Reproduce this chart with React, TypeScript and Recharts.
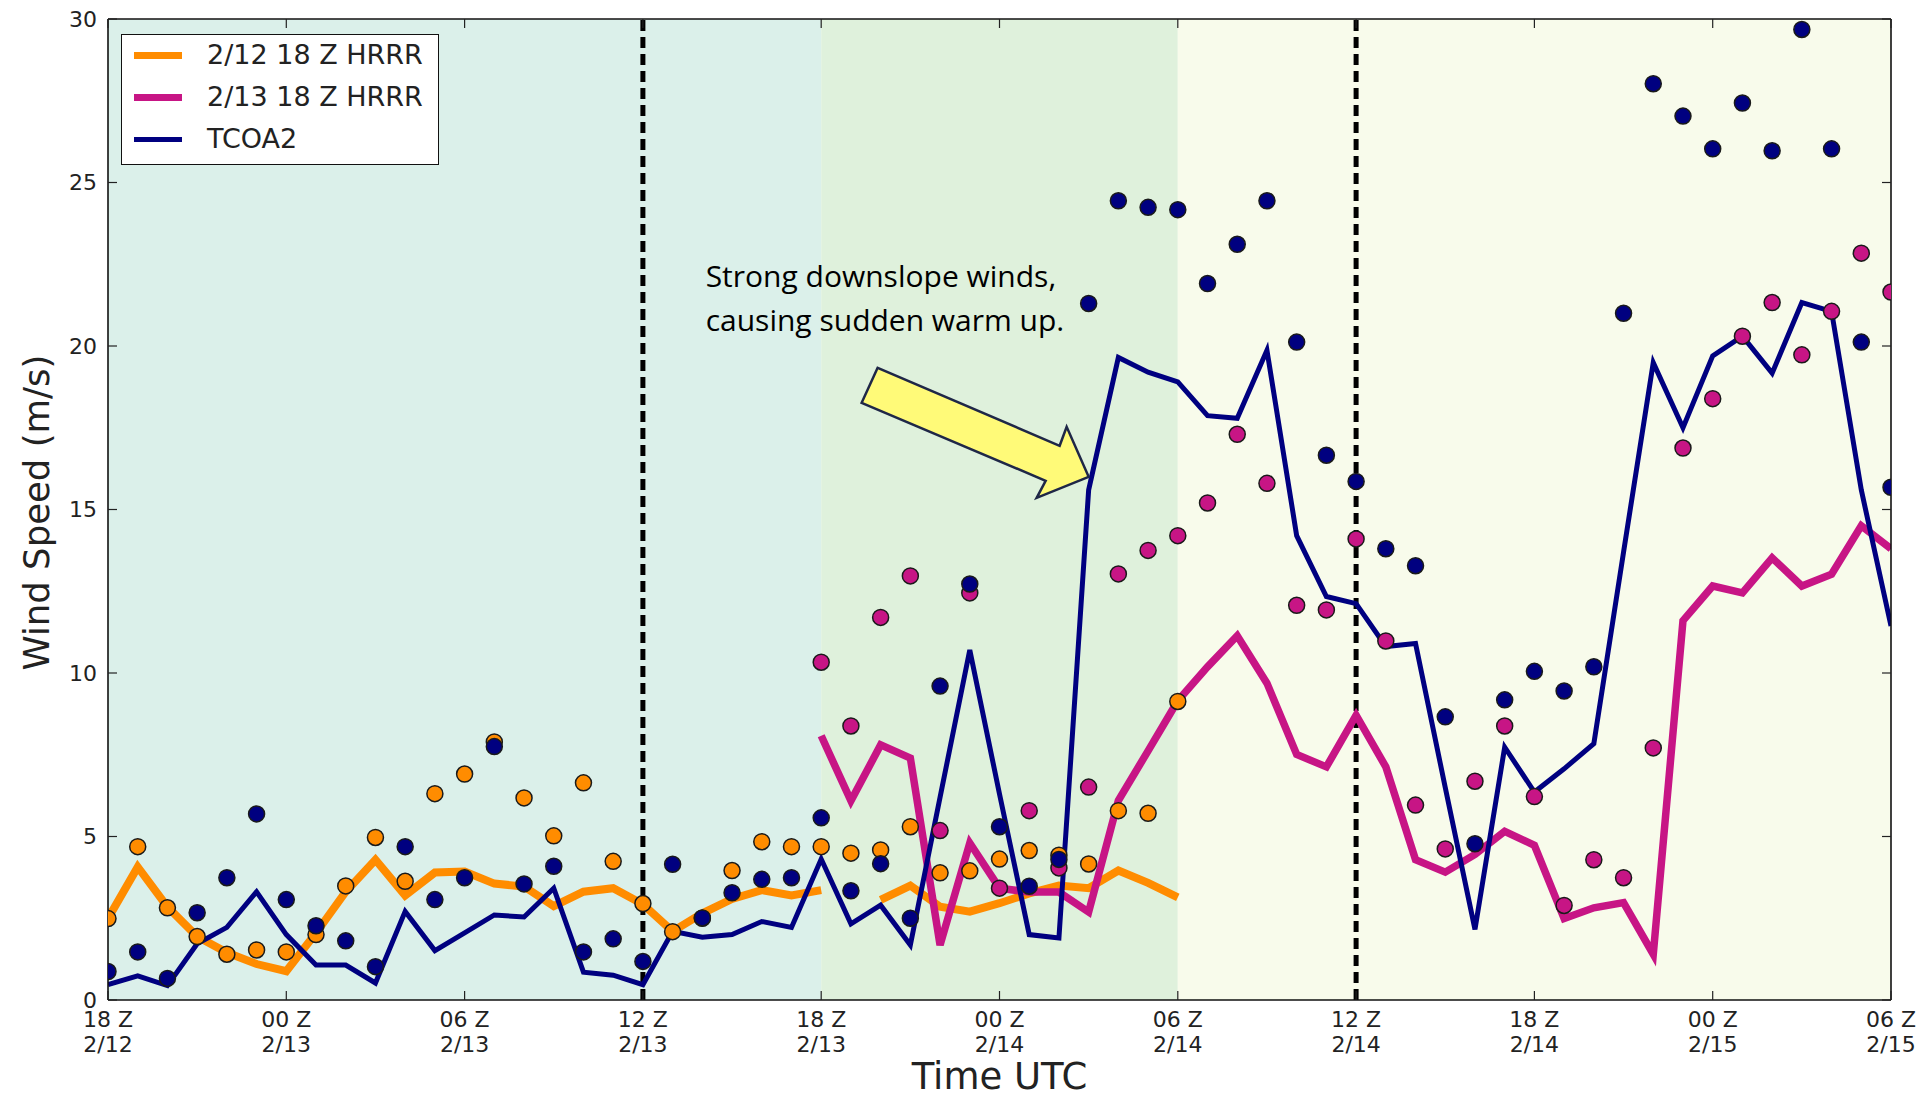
import React from "react";
import {
  ComposedChart,
  Line,
  XAxis,
  YAxis,
  ReferenceArea,
  ReferenceLine,
  ReferenceDot,
} from "recharts";

// hours since 18 Z 2/12, one value per hour
const hourTicks = [0, 6, 12, 18, 24, 30, 36, 42, 48, 54, 60];
const tickTimes = ["18 Z", "00 Z", "06 Z", "12 Z", "18 Z", "00 Z", "06 Z", "12 Z", "18 Z", "00 Z", "06 Z"];
const tickDates = ["2/12", "2/13", "2/13", "2/13", "2/13", "2/14", "2/14", "2/14", "2/14", "2/15", "2/15"];
const yTicks = [0, 5, 10, 15, 20, 25, 30];

// TCOA2 observed wind speed (line) and gusts (dots), h0..h60
const tcoa2Speed = [
  0.47, 0.74, 0.44, 1.72, 2.22, 3.31, 2.0, 1.07, 1.07, 0.52,
  2.71, 1.51, 2.05, 2.6, 2.54, 3.42, 0.85, 0.76, 0.47, 2.1,
  1.92, 2.0, 2.4, 2.22, 4.31, 2.33, 2.9, 1.68, 6.2, 10.7,
  6.3, 2.0, 1.9, 15.6, 19.65, 19.2, 18.9, 17.87, 17.79, 19.87,
  14.2, 12.34, 12.12, 10.81, 10.9, 6.5, 2.16, 7.73, 6.36, 7.07,
  7.84, 13.7, 19.49, 17.5, 19.7, 20.3, 19.17, 21.33, 21.06, 15.6,
  11.44,
];
const tcoa2Gust = [
  0.87, 1.47, 0.66, 2.67, 3.74, 5.69, 3.07, 2.27, 1.81, 1.02,
  4.69, 3.07, 3.74, 7.75, 3.55, 4.09, 1.47, 1.87, 1.18, 4.15,
  2.51, 3.28, 3.69, 3.74, 5.57, 3.34, 4.17, 2.5, 9.6, 12.72,
  5.3, 3.48, 4.3, 21.3, 24.44, 24.24, 24.17, 21.91, 23.11, 24.44,
  20.12, 16.66, 15.86, 13.8, 13.28, 8.66, 4.78, 9.18, 10.05, 9.45,
  10.19, 21.0, 28.02, 27.03, 26.03, 27.43, 25.97, 29.68, 26.03, 20.12,
  15.68,
];

// 2/12 18 Z HRRR, h0..h36 (h25 missing)
const hrrr12Speed = [
  2.49, 4.07, 2.85, 1.94, 1.45, 1.1, 0.88, 2.05, 3.31, 4.29,
  3.2, 3.9, 3.93, 3.56, 3.47, 2.87, 3.31, 3.42, 2.93, 2.1,
  2.65, 3.09, 3.36, 3.2, 3.36, null, 3.06, 3.5, 2.85, 2.7,
  2.96, 3.26, 3.5, 3.42, 3.96, 3.58, 3.14,
];
const hrrr12Gust = [
  2.49, 4.69, 2.82, 1.94, 1.4, 1.53, 1.47, 2.0, 3.49, 4.97,
  3.63, 6.31, 6.91, 7.89, 6.18, 5.02, 6.64, 4.24, 2.95, 2.09,
  2.5, 3.96, 4.84, 4.69, 4.69, 4.49, 4.59, 5.3, 3.89, 3.95,
  4.31, 4.57, 4.43, 4.16, 5.79, 5.71, 9.13,
];

// 2/13 18 Z HRRR, h24..h60
const hrrr13Start = 24;
const hrrr13Speed = [
  8.08, 6.09, 7.8, 7.4, 1.68, 4.8, 3.42, 3.3, 3.3, 2.69,
  6.1, 7.62, 9.15, 10.19, 11.14, 9.69, 7.51, 7.13, 8.71, 7.13,
  4.29, 3.91, 4.45, 5.16, 4.73, 2.49, 2.82, 2.98, 1.4, 11.6,
  12.66, 12.45, 13.52, 12.66, 13.02, 14.5, 13.8,
];
const hrrr13Gust = [
  10.33, 8.38, 11.7, 12.97, 5.18, 12.45, 3.42, 5.79, 4.04, 6.51,
  13.03, 13.75, 14.2, 15.2, 17.3, 15.8, 12.07, 11.93, 14.1, 10.98,
  5.96, 4.62, 6.69, 8.38, 6.22, 2.89, 4.29, 3.74, 7.71, 16.88,
  18.39, 20.3, 21.33, 19.73, 21.06, 22.84, 21.65,
];

const ORANGE = "#ff8c00";
const MAGENTA = "#c71585";
const NAVY = "#000080";
const FONT = "DejaVu Sans";

const data = tcoa2Speed.map((v, i) => {
  const j = i - hrrr13Start;
  return {
    hour: i,
    tcoa2: v,
    tcoa2Gust: tcoa2Gust[i],
    hrrr12: i < hrrr12Speed.length ? hrrr12Speed[i] : null,
    hrrr12Gust: i < hrrr12Gust.length ? hrrr12Gust[i] : null,
    hrrr13: j >= 0 ? hrrr13Speed[j] : null,
    hrrr13Gust: j >= 0 ? hrrr13Gust[j] : null,
  };
});

const legendItems = [
  { label: "2/12 18 Z HRRR", color: ORANGE, width: 7 },
  { label: "2/13 18 Z HRRR", color: MAGENTA, width: 7 },
  { label: "TCOA2", color: NAVY, width: 5 },
];

const gustDot = (fill: string) => (props: any) => {
  const { cx, cy, value, index } = props;
  if (value == null || cy == null) return <g key={`d-${index}`} />;
  return (
    <circle key={`d-${index}`} cx={cx} cy={cy} r={8} fill={fill} stroke="#1a1a1a" strokeWidth={1.5} />
  );
};

const BottomTick = (props: any) => {
  const { x, y, payload } = props;
  const i = hourTicks.indexOf(payload.value);
  return (
    <g>
      <line x1={x} x2={x} y1={y} y2={y - 9} stroke="#222" strokeWidth={1.2} />
      <text x={x} y={y + 27} textAnchor="middle" fontSize={22} fill="#222" fontFamily={FONT}>
        {tickTimes[i]}
      </text>
      <text x={x} y={y + 52} textAnchor="middle" fontSize={22} fill="#222" fontFamily={FONT}>
        {tickDates[i]}
      </text>
    </g>
  );
};

const TopTick = (props: any) => (
  <line x1={props.x} x2={props.x} y1={props.y} y2={props.y + 9} stroke="#222" strokeWidth={1.2} />
);

const LeftTick = (props: any) => {
  const { x, y, payload } = props;
  return (
    <g>
      <line x1={x} x2={x + 9} y1={y} y2={y} stroke="#222" strokeWidth={1.2} />
      <text x={x - 11} y={y} dy="0.36em" textAnchor="end" fontSize={22} fill="#222" fontFamily={FONT}>
        {payload.value}
      </text>
    </g>
  );
};

const RightTick = (props: any) => (
  <line x1={props.x} x2={props.x - 9} y1={props.y} y2={props.y} stroke="#222" strokeWidth={1.2} />
);

// arrow + note pointing at the jump in TCOA2 wind speed
const Annotation = (props: any) => {
  const { cx, cy } = props;
  const pts = [
    [-211, -109],
    [-227, -74],
    [-43, 4],
    [-52, 21],
    [0, 0],
    [-22, -50],
    [-29, -31],
  ]
    .map(([dx, dy]) => `${cx + dx},${cy + dy}`)
    .join(" ");
  return (
    <g>
      <polygon points={pts} fill="#fffa78" stroke="#1f2747" strokeWidth={2.5} strokeLinejoin="miter" />
      <text x={cx - 383} y={cy - 190} fontSize={30} fontFamily="Open Sans" fill="#000">
        Strong downslope winds,
      </text>
      <text x={cx - 383} y={cy - 146} fontSize={30} fontFamily="Open Sans" fill="#000">
        causing sudden warm up.
      </text>
    </g>
  );
};

export default function App() {
  return (
    <div style={{ position: "absolute", left: 0, top: 0, width: 1929, height: 1100, background: "#fff" }}>
      <ComposedChart
        width={1929}
        height={1100}
        data={data}
        margin={{ top: 18, right: 37, bottom: 40, left: 48 }}
      >
        <ReferenceArea x1={0} x2={24} y1={0} y2={30} fill="#dbf0ea" fillOpacity={1} stroke="none" />
        <ReferenceArea x1={24} x2={36} y1={0} y2={30} fill="#dff1dc" fillOpacity={1} stroke="none" />
        <ReferenceArea x1={36} x2={60} y1={0} y2={30} fill="#f8fbeb" fillOpacity={1} stroke="none" />

        <XAxis
          dataKey="hour"
          type="number"
          domain={[0, 60]}
          ticks={hourTicks}
          allowDataOverflow
          height={60}
          tickSize={0}
          tickMargin={0}
          tickLine={false}
          axisLine={{ stroke: "#111", strokeWidth: 1.6 }}
          tick={(p: any) => <BottomTick {...p} />}
          label={{
            content: (p: any) => (
              <text
                x={p.viewBox.x + p.viewBox.width / 2}
                y={p.viewBox.y + 89}
                textAnchor="middle"
                fontSize={37}
                fill="#222"
                fontFamily={FONT}
              >
                Time UTC
              </text>
            ),
          }}
        />
        <XAxis
          xAxisId="top"
          orientation="top"
          type="number"
          domain={[0, 60]}
          ticks={hourTicks}
          allowDataOverflow
          height={1}
          tickSize={0}
          tickMargin={0}
          tickLine={false}
          axisLine={{ stroke: "#111", strokeWidth: 1.6 }}
          tick={(p: any) => <TopTick {...p} />}
        />
        <YAxis
          type="number"
          domain={[0, 30]}
          ticks={yTicks}
          allowDataOverflow
          width={60}
          tickSize={0}
          tickMargin={0}
          tickLine={false}
          axisLine={{ stroke: "#111", strokeWidth: 1.6 }}
          tick={(p: any) => <LeftTick {...p} />}
          label={{
            content: (p: any) => {
              const x = p.viewBox.x - 12;
              const y = p.viewBox.y + p.viewBox.height / 2 + 3;
              return (
                <text
                  x={x}
                  y={y}
                  transform={`rotate(-90, ${x}, ${y})`}
                  textAnchor="middle"
                  dominantBaseline="central"
                  fontSize={35.5}
                  fill="#222"
                  fontFamily={FONT}
                >
                  Wind Speed (m/s)
                </text>
              );
            },
          }}
        />
        <YAxis
          yAxisId="right"
          orientation="right"
          type="number"
          domain={[0, 30]}
          ticks={yTicks}
          allowDataOverflow
          width={1}
          tickSize={0}
          tickMargin={0}
          tickLine={false}
          axisLine={{ stroke: "#111", strokeWidth: 1.6 }}
          tick={(p: any) => <RightTick {...p} />}
        />

        <ReferenceLine x={18} stroke="#000" strokeWidth={5} strokeDasharray="11 6" />
        <ReferenceLine x={42} stroke="#000" strokeWidth={5} strokeDasharray="11 6" />

        <Line dataKey="hrrr12" stroke={ORANGE} strokeWidth={8} dot={false} activeDot={false} isAnimationActive={false} connectNulls={false} />
        <Line dataKey="hrrr13" stroke={MAGENTA} strokeWidth={7.5} dot={false} activeDot={false} isAnimationActive={false} connectNulls={false} />
        <Line dataKey="tcoa2" stroke={NAVY} strokeWidth={5} dot={false} activeDot={false} isAnimationActive={false} />

        <Line dataKey="hrrr12Gust" stroke="none" dot={gustDot(ORANGE)} activeDot={false} isAnimationActive={false} />
        <Line dataKey="hrrr13Gust" stroke="none" dot={gustDot(MAGENTA)} activeDot={false} isAnimationActive={false} />
        <Line dataKey="tcoa2Gust" stroke="none" dot={gustDot(NAVY)} activeDot={false} isAnimationActive={false} />

        <ReferenceDot x={33} y={16} r={0} shape={(p: any) => <Annotation {...p} />} />
      </ComposedChart>

      <div
        style={{
          position: "absolute",
          left: 121,
          top: 34,
          width: 318,
          height: 131,
          boxSizing: "border-box",
          border: "1.6px solid #111",
          background: "#fff",
          fontFamily: FONT,
        }}
      >
        {legendItems.map((item, i) => (
          <div key={item.label}>
            <div
              style={{
                position: "absolute",
                left: 12,
                top: 20 + i * 42 - item.width / 2,
                width: 48,
                height: item.width,
                background: item.color,
              }}
            />
            <div
              style={{
                position: "absolute",
                left: 85,
                top: 20 + i * 42 - 16,
                height: 32,
                lineHeight: "32px",
                fontSize: 27,
                color: "#222",
                whiteSpace: "nowrap",
              }}
            >
              {item.label}
            </div>
          </div>
        ))}
      </div>
    </div>
  );
}
